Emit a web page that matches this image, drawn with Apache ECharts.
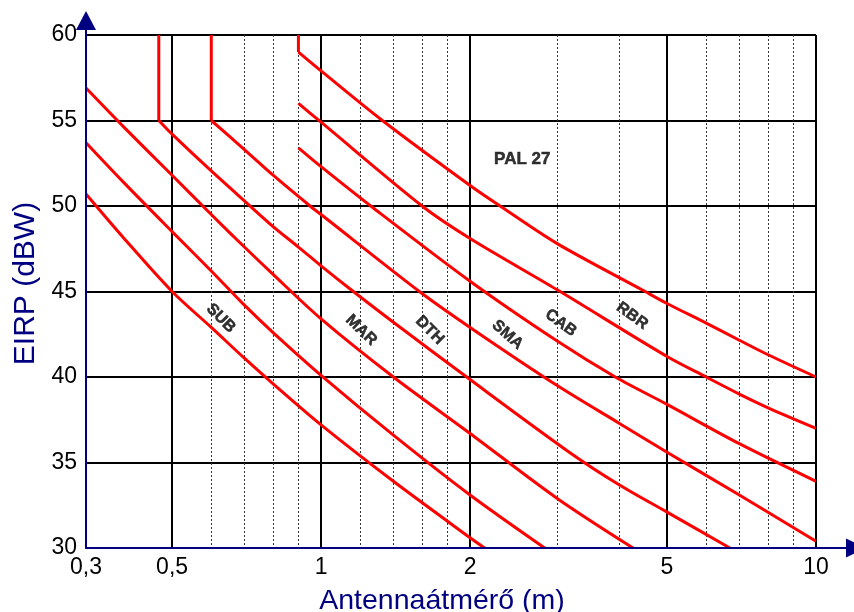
<!DOCTYPE html>
<html>
<head>
    <meta charset="utf-8">
</head>
<body style="margin: 0">
<div id="container" style="width: 854px; height: 612px"></div>
<script type="text/javascript" src="https://cdn.jsdelivr.net/npm/echarts@6.0.0/dist/echarts.min.js"></script>
<script type="text/javascript">
    var dom = document.getElementById("container");
    var myChart = echarts.init(dom);

    // antenna diameter (m) / EIRP (dBW), curves from bottom to top
    var curve1D = [0.335, 0.4, 0.5, 0.6, 0.7, 0.8, 1, 1.4, 2, 2.14];
    var curve1E = [50.7, 48.1, 45.0, 42.9, 41.1, 39.6, 37.2, 33.9, 30.6, 30.0];
    var curve2D = [0.335, 0.4, 0.5, 0.6, 0.7, 0.8, 1, 1.4, 2, 2.83];
    var curve2E = [53.7, 51.35, 48.5, 46.2, 44.2, 42.6, 40.1, 36.6, 33.1, 30.0];
    var curve3D = [0.335, 0.4, 0.5, 0.6, 0.7, 0.8, 1, 1.4, 2, 3, 4.27];
    var curve3E = [56.9, 54.6, 51.8, 49.5, 47.6, 46.0, 43.4, 40.0, 36.7, 32.9, 30.0];
    var curve4D = [0.47, 0.47, 0.5, 0.6, 0.7, 0.8, 0.9, 1, 1.15, 1.4, 2, 3.21, 4, 5, 6.7];
    var curve4E = [60, 55, 54.2, 52.05, 50.3, 48.8, 47.6, 46.5, 45.1, 43.2, 39.85, 35.5, 33.7, 32.1, 30.0];
    var curve5D = [0.6, 0.6, 0.7, 0.8, 0.95, 1, 1.58, 2, 3, 4, 5, 7, 10];
    var curve5E = [60, 55, 53.3, 51.8, 50.0, 49.5, 45.0, 42.9, 39.5, 37.3, 35.6, 33.1, 30.4];
    var curve6D = [0.9, 1, 1.26, 2, 3, 3.93, 5, 7, 10];
    var curve6E = [53.4, 52.3, 50.0, 45.6, 42.1, 40.0, 38.4, 36.1, 33.9];
    var curve7D = [0.9, 1, 1.6, 2, 3, 5, 6, 7, 8, 10];
    var curve7E = [56.0, 54.9, 50.0, 48.1, 45.1, 41.2, 40.0, 39.0, 38.2, 37.0];
    var curve8D = [0.9, 0.9, 1, 1.33, 2, 2.3, 3, 4.45, 5, 6, 7, 8, 10];
    var curve8E = [60, 59, 57.9, 55.0, 51.2, 50.0, 47.8, 45.1, 44.3, 43.15, 42.15, 41.3, 40.0];

    // curve labels
    var labelNames = ['SUB', 'MAR', 'DTH', 'SMA', 'CAB', 'RBR', 'PAL 27'];
    var labelD = [0.627, 1.205, 1.657, 2.38, 3.05, 4.25, 2.55];
    var labelE = [43.43, 42.73, 42.73, 42.46, 43.16, 43.57, 52.73];

    // x axis (log scale)
    var xMinD = 0.335;
    var xMaxD = 10;
    var tickD = [0.335, 0.5, 1, 2, 5, 10];
    var tickLabels = ['0,3', '0,5', '1', '2', '5', '10'];
    var majorD = [0.5, 1, 2, 5, 10];
    var minorD = [0.6, 0.7, 0.8, 0.9, 1.2, 1.4, 1.6, 1.8, 3, 4, 6, 7, 8, 9];

    var labelRotate = [-45, -44, -45, -42, -36, -36, 0];
    var navy = '#000080';
    var font = '"Liberation Sans", Arial, sans-serif';

    var lg = function (v) { return Math.log10(v); };
    var tickLogs = tickD.map(lg);

    var curves = [
        [curve1D, curve1E], [curve2D, curve2E], [curve3D, curve3E], [curve4D, curve4E],
        [curve5D, curve5E], [curve6D, curve6E], [curve7D, curve7E], [curve8D, curve8E]
    ];

    function lineSeries(points, smooth) {
        return {
            type: 'line',
            xAxisIndex: 0,
            yAxisIndex: 0,
            data: points,
            showSymbol: false,
            silent: true,
            animation: false,
            smooth: smooth,
            lineStyle: {color: '#ff0000', width: 3, join: 'round'},
            itemStyle: {color: '#ff0000'},
            z: 3
        };
    }

    var series = [];
    curves.forEach(function (c) {
        var pts = c[0].map(function (d, i) { return [lg(d), c[1][i]]; });
        // a vertical start (same diameter twice) is drawn straight, the rest smoothed
        if (c[0][0] === c[0][1]) {
            series.push(lineSeries(pts.slice(0, 2), false));
            pts = pts.slice(1);
        }
        series.push(lineSeries(pts, 0.3));
    });

    series.push({
        type: 'scatter',
        xAxisIndex: 0,
        yAxisIndex: 0,
        symbolSize: 0,
        silent: true,
        animation: false,
        z: 4,
        label: {
            show: true,
            position: 'inside',
            formatter: '{b}',
            color: '#000',
            fontWeight: 'bold',
            fontSize: 16,
            fontFamily: font,
            textBorderColor: '#000',
            textBorderWidth: 0.5
        },
        data: labelNames.map(function (n, i) {
            var item = {name: n, value: [lg(labelD[i]), labelE[i]], label: {rotate: labelRotate[i]}};
            if (labelRotate[i] === 0) {
                item.label.fontSize = 17;
            }
            return item;
        })
    });

    var option = {
        animation: false,
        backgroundColor: '#ffffff',
        grid: [
            {left: 86, right: 38, top: 35, bottom: 64, outerBoundsMode: 'none'},
            {left: 86, right: 8, top: 30, bottom: 64, outerBoundsMode: 'none'}
        ],
        xAxis: [{
            gridIndex: 0,
            type: 'value',
            min: lg(xMinD),
            max: lg(xMaxD),
            axisLine: {show: false},
            axisTick: {show: false, customValues: majorD.map(lg)},
            axisLabel: {
                customValues: tickLogs,
                showMinLabel: true,
                showMaxLabel: true,
                margin: 8,
                color: '#000',
                fontSize: 23,
                fontFamily: font,
                formatter: function (v) {
                    for (var i = 0; i < tickLogs.length; i++) {
                        if (Math.abs(tickLogs[i] - v) < 1e-6) return tickLabels[i];
                    }
                    return '';
                }
            },
            splitLine: {show: true, lineStyle: {color: '#000', width: 2}},
            name: 'Antennaátmérő (m)',
            nameLocation: 'middle',
            nameGap: 39,
            nameTextStyle: {color: navy, fontSize: 28.5, fontFamily: font, padding: [0, 18, 0, 0]}
        }, {
            gridIndex: 0,
            type: 'value',
            min: lg(xMinD),
            max: lg(xMaxD),
            axisLine: {show: false},
            axisTick: {show: false, customValues: minorD.map(lg)},
            axisLabel: {show: false},
            splitLine: {show: true, lineStyle: {color: '#333', width: 1, type: [2, 2]}}
        }, {
            gridIndex: 1,
            type: 'value',
            min: 0,
            max: 1,
            z: 5,
            axisLine: {
                show: true,
                onZero: false,
                symbol: ['none', 'triangle'],
                symbolSize: [19, 20],
                symbolOffset: [0, 10],
                lineStyle: {color: navy, width: 2}
            },
            axisTick: {show: false},
            axisLabel: {show: false},
            splitLine: {show: false}
        }],
        yAxis: [{
            gridIndex: 0,
            type: 'value',
            min: 30,
            max: 60,
            interval: 5,
            axisLine: {show: false},
            axisTick: {show: false},
            axisLabel: {margin: 9, color: '#000', fontSize: 23, fontFamily: font},
            splitLine: {show: true, lineStyle: {color: '#000', width: 2}},
            name: 'EIRP (dBW)',
            nameLocation: 'middle',
            nameGap: 40,
            nameTextStyle: {color: navy, fontSize: 30, fontFamily: font, padding: [0, 0, 0, 16]}
        }, {
            gridIndex: 1,
            type: 'value',
            min: 0,
            max: 1,
            z: 5,
            axisLine: {
                show: true,
                onZero: false,
                symbol: ['none', 'triangle'],
                symbolSize: [20, 19],
                symbolOffset: [0, 9.5],
                lineStyle: {color: navy, width: 2}
            },
            axisTick: {show: false},
            axisLabel: {show: false},
            splitLine: {show: false}
        }],
        series: series
    };

    myChart.setOption(option, true);
</script>
</body>
</html>
